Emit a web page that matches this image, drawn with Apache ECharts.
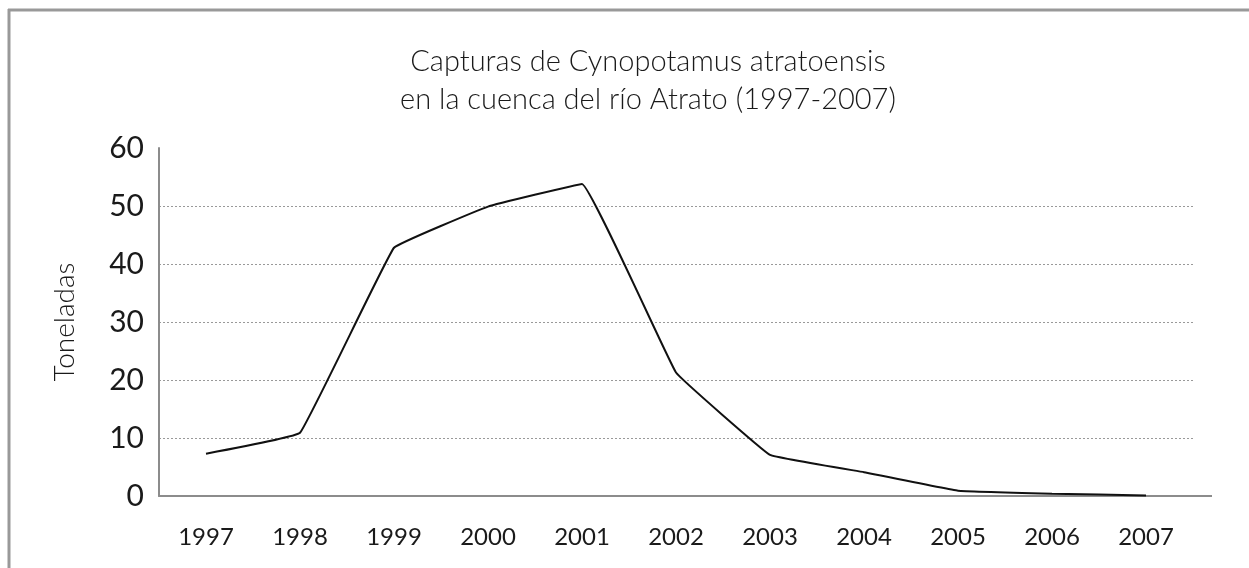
<!DOCTYPE html>
<html>
<head>
<meta charset="utf-8">
<script src="https://cdn.jsdelivr.net/npm/echarts@6/dist/echarts.min.js"></script>
<style>
  html, body { margin: 0; padding: 0; background: #fff; }
  #chart { width: 1249px; height: 568px; }
</style>
</head>
<body>
<div id="chart"></div>
<script>
// datos
const years = ['1997', '1998', '1999', '2000', '2001', '2002', '2003', '2004', '2005', '2006', '2007'];
const toneladas = [7.3, 10.9, 42.8, 49.9, 53.8, 21.3, 7.1, 4.1, 0.9, 0.4, 0.1];
const yTicks = [0, 10, 20, 30, 40, 50, 60];

const font = 'Lato, "Open Sans", sans-serif';
const chart = echarts.init(document.getElementById('chart'));

chart.setOption({
    animation: false,
    title: {
        text: 'Capturas de Cynopotamus atratoensis\nen la cuenca del río Atrato (1997-2007)',
        left: 643,
        textAlign: 'center',
        top: 38,
        textStyle: {
            fontFamily: font,
            fontWeight: 300,
            fontSize: 29,
            lineHeight: 38,
            color: '#1a1a1a'
        }
    },
    grid: { left: 159, right: 56, top: 148, bottom: 72 },
    xAxis: {
        type: 'category',
        data: years,
        boundaryGap: true,
        axisLine: { lineStyle: { color: '#8c8c8c', width: 2 } },
        axisTick: { show: false },
        axisLabel: { fontFamily: font, fontSize: 24, color: '#1a1a1a', margin: 29 }
    },
    yAxis: {
        type: 'value',
        min: yTicks[0],
        max: yTicks[yTicks.length - 1],
        interval: 10,
        name: 'Toneladas',
        nameLocation: 'middle',
        nameGap: 80,
        nameTextStyle: { fontFamily: font, fontSize: 28, fontWeight: 300, color: '#1a1a1a' },
        axisLine: { show: true, lineStyle: { color: '#8c8c8c', width: 2 } },
        axisTick: { show: false },
        axisLabel: { fontFamily: font, fontSize: 30, color: '#1a1a1a', margin: 15 },
        splitLine: {
            lineStyle: {
                type: [2, 2],
                width: 1,
                color: ['#999', '#999', '#999', '#999', '#999', '#999', 'rgba(0,0,0,0)']
            }
        }
    },
    series: [{
        type: 'line',
        data: toneladas,
        smooth: 0.06,
        symbol: 'none',
        lineStyle: { color: '#111', width: 2 },
        z: 3
    }]
});

// marco gris arriba/izquierda + el eje X del original sigue un poco más allá de la última categoría
const rect = chart.getModel().getComponent('grid').coordinateSystem.getRect();
const y0 = chart.convertToPixel({ yAxisIndex: 0 }, 0);
chart.setOption({
    graphic: [
        { type: 'line', shape: { x1: 8, y1: 10, x2: 1249, y2: 10 }, style: { stroke: '#999', lineWidth: 3 } },
        { type: 'line', shape: { x1: 9, y1: 9, x2: 9, y2: 568 }, style: { stroke: '#999', lineWidth: 3 } },
        { type: 'line', z: 1, shape: { x1: rect.x + rect.width - 1, y1: y0, x2: rect.x + rect.width + 19, y2: y0 }, style: { stroke: '#8c8c8c', lineWidth: 2 } }
    ]
});
</script>
</body>
</html>
